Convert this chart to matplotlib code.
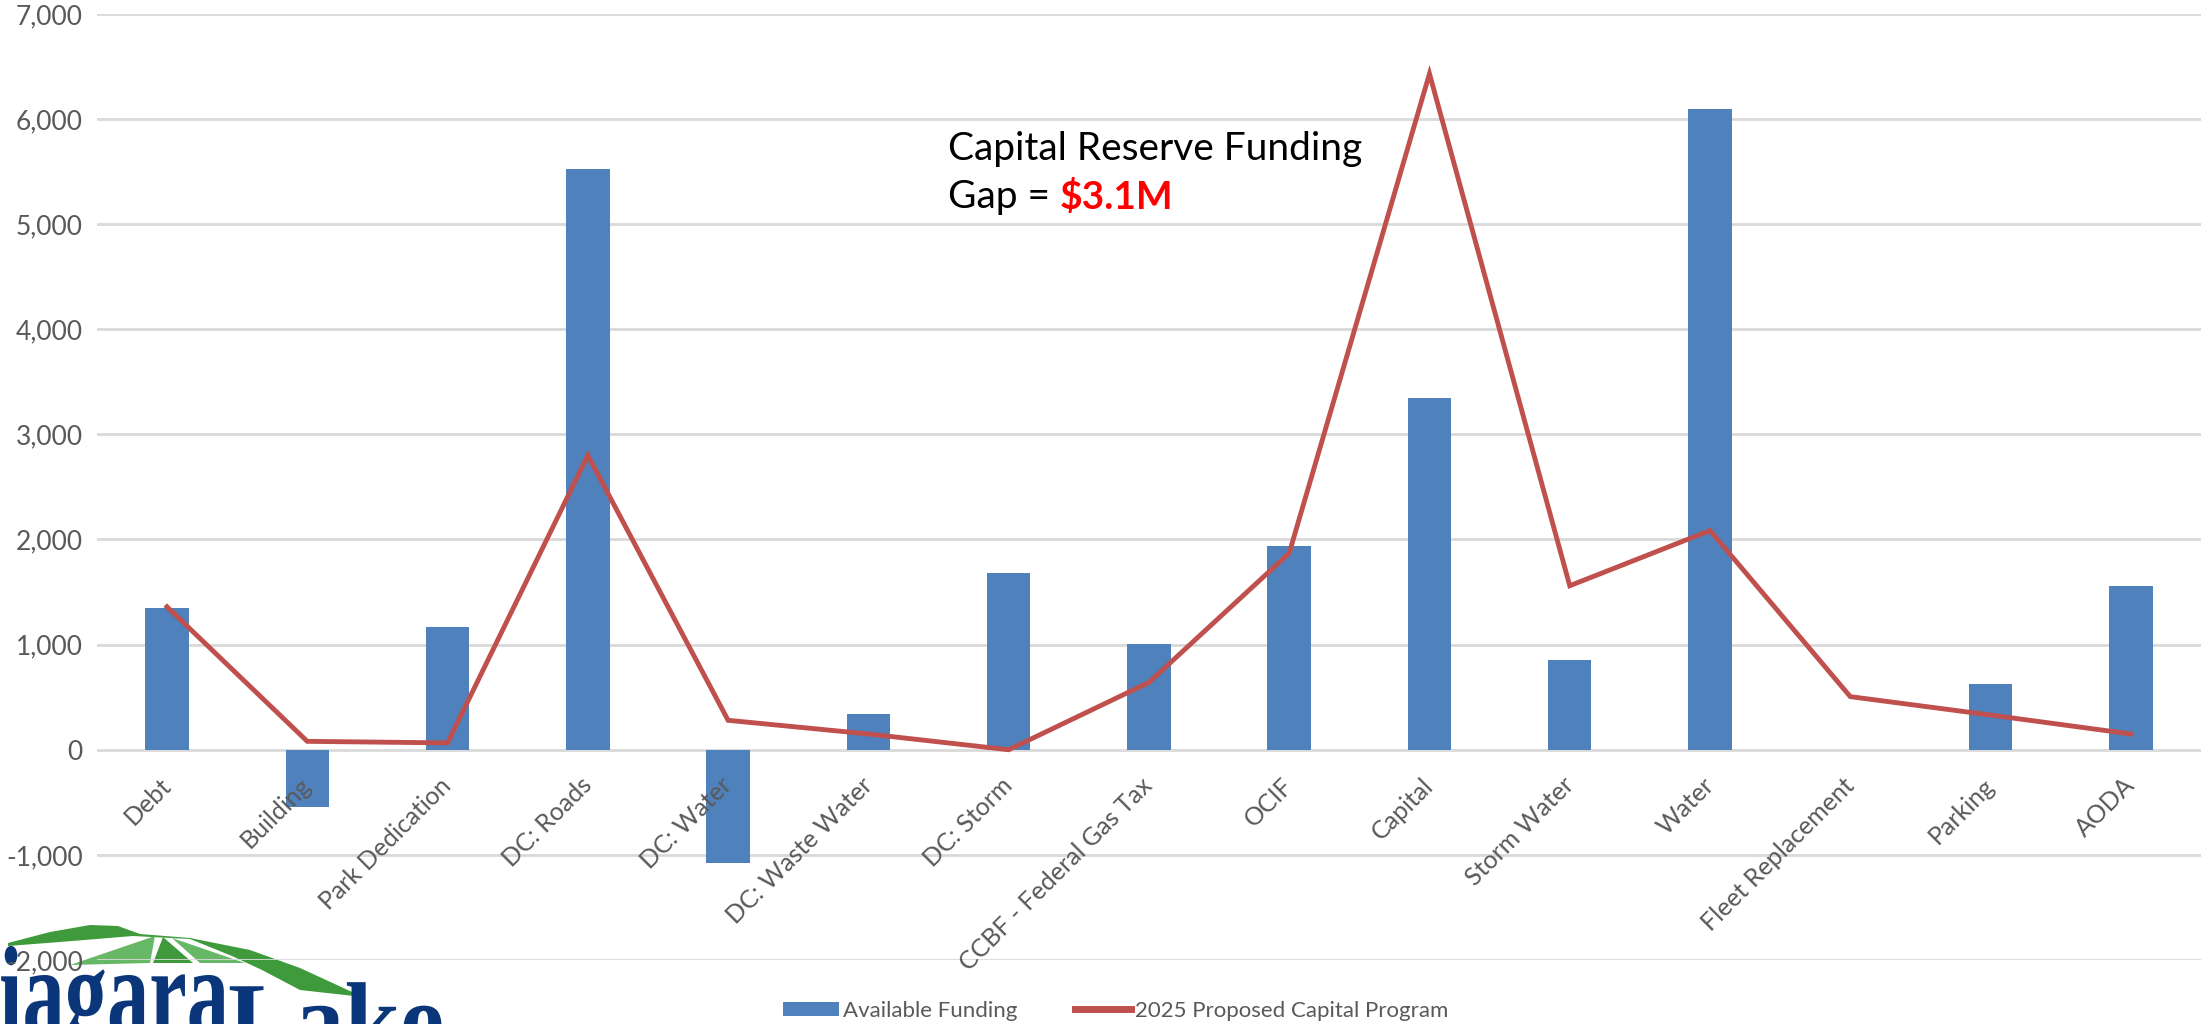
import numpy as np
import matplotlib
matplotlib.use("Agg")
import matplotlib.pyplot as plt
from matplotlib.patches import Polygon, PathPatch, Patch
from matplotlib.lines import Line2D
from matplotlib.textpath import TextPath
from matplotlib.font_manager import FontProperties
from matplotlib.transforms import Affine2D, IdentityTransform
from matplotlib.ticker import FuncFormatter, MultipleLocator

plt.rcParams['font.family'] = ['Lato', 'DejaVu Sans']
plt.rcParams['axes.unicode_minus'] = False

categories = ['Debt', 'Building', 'Park Dedication', 'DC: Roads', 'DC: Water',
              'DC: Waste Water', 'DC: Storm', 'CCBF - Federal Gas Tax', 'OCIF',
              'Capital', 'Storm Water', 'Water', 'Fleet Replacement', 'Parking', 'AODA']
available_funding = [1350, -545, 1170, 5520, -1080, 340, 1685, 1010, 1935,
                     3345, 855, 6090, 0, 630, 1555]
proposed_program = [1360, 80, 65, 2800, 280, 150, 0, 640, 1870,
                    6430, 1560, 2085, 505, 330, 150]

bar_color = '#4F81BD'
line_color = '#C0504D'
grid_color = '#D9D9D9'
label_color = '#595959'

fig = plt.figure(figsize=(22.01, 10.24), dpi=100)
ax = fig.add_axes([0.044, 0.0625, 0.956, 0.924])
ax.patch.set_alpha(0)  # let the logo show through under the bottom gridline

x = np.arange(len(categories))
ax.bar(x, available_funding, width=0.31, color=bar_color, zorder=2)
ax.plot(x, proposed_program, color=line_color, lw=3.5, zorder=3,
        solid_joinstyle='miter')

ax.set_xlim(-0.5, len(categories) - 0.5)
ax.set_ylim(-2000, 7000)
ax.yaxis.set_major_locator(MultipleLocator(1000))
ax.yaxis.set_major_formatter(FuncFormatter(lambda v, p: f"{v:,.0f}"))
ax.grid(axis='y', color=grid_color, lw=2, zorder=0)
ax.set_axisbelow(True)
for s in ax.spines.values():
    s.set_visible(False)
ax.spines['bottom'].set_position(('data', 0))

ax.set_xticks(x)
ax.set_xticklabels(categories, rotation=45, ha='right', va='center',
                   rotation_mode='anchor', fontsize=18, color=label_color)
ax.tick_params(axis='x', length=0, pad=23)
ax.tick_params(axis='y', length=0, pad=10, labelsize=19, labelcolor=label_color)
# category labels sit on top of the bars, as in the original
ax.xaxis.set_zorder(5)

# annotation
ax.text(0.4045, 0.845, 'Capital Reserve Funding', transform=ax.transAxes,
        fontsize=28, color='black', ha='left', va='baseline')
t = ax.text(0.4045, 0.795, 'Gap = ', transform=ax.transAxes,
            fontsize=28, color='black', ha='left', va='baseline')
ax.annotate('$3.1M', xycoords=t, xy=(1, 0), va='bottom', ha='left',
            fontsize=28, color='#FF0000', fontweight='bold')

# legend
handles = [Patch(facecolor=bar_color, edgecolor='none'),
           Line2D([0], [0], color=line_color, lw=5)]
fig.legend(handles, ['Available Funding', '2025 Proposed Capital Program'],
           loc='center', bbox_to_anchor=(0.507, 0.013), ncol=2, frameon=False,
           fontsize=16, labelcolor=label_color, handlelength=2.5,
           handleheight=0.6, columnspacing=2.6, handletextpad=0.2)

# partial logo in the bottom-left corner (pixel coordinates, origin bottom-left)
H = 1024
def px(pts):
    return [(a, H - b) for a, b in pts]

dark_green = '#3F9A3C'
light_green = '#66B866'
logo_shapes = [
    (px([(8, 943), (50, 932), (90, 925), (118, 926), (140, 934), (190, 938),
         (250, 950), (300, 968), (363, 997), (300, 990), (262, 970),
         (232, 956), (190, 939), (133, 936), (60, 942), (8, 946)]), dark_green),
    (px([(70, 965), (155, 936), (150, 963)]), light_green),
    (px([(153, 963), (163, 937), (193, 963)]), dark_green),
    (px([(200, 963), (172, 938), (245, 963)]), light_green),
]
for pts, col in logo_shapes:
    fig.patches.append(Polygon(pts, closed=True, facecolor=col, edgecolor='none',
                               transform=IdentityTransform(), zorder=-2))

serif_bold = FontProperties(family='Liberation Serif', weight='bold')
navy = '#0B3679'
tp = TextPath((0, 0), 'Niagara', prop=serif_bold, size=130)
fig.patches.append(PathPatch(tp, facecolor=navy, edgecolor='none', zorder=-1,
                             transform=Affine2D().scale(0.65, 1.0).translate(-62, H - 1036)))
tp2 = TextPath((0, 0), 'Lake', prop=serif_bold, size=105)
fig.patches.append(PathPatch(tp2, facecolor=navy, edgecolor='none', zorder=-1,
                             transform=Affine2D().scale(0.95, 1.0).translate(228, H - 1055)))

fig.savefig('out.png', dpi=100)
